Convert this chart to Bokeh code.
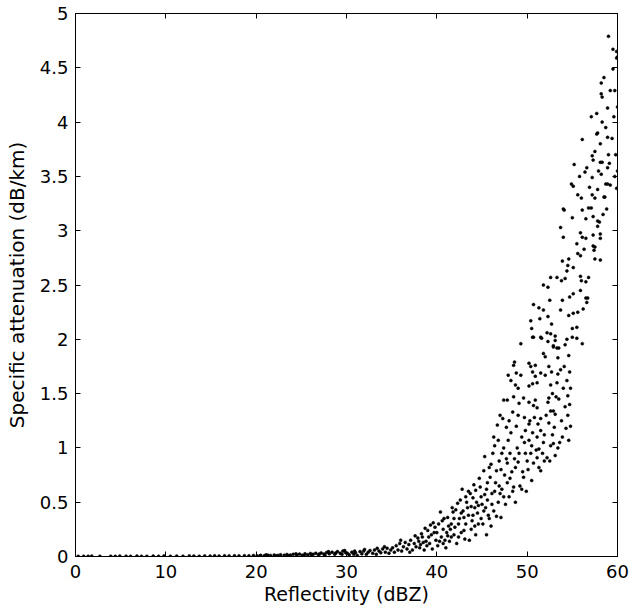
from bokeh.plotting import figure
from bokeh.models import Range1d, LinearAxis, FixedTicker, CustomJSTickFormatter
from bokeh.embed import file_html
from bokeh.resources import INLINE

# ---- data: (reflectivity dBZ, specific attenuation dB/km) ----
seg_base = [(0.3,0.002),(0.9,0.003),(1.4,0.002),(1.8,0.004),(2.7,0.002),(3.9,0.003),(4.4,0.002),
            (4.9,0.004),(5.6,0.003),(6.1,0.002),(6.8,0.004),(7.3,0.003),(7.9,0.002),(8.6,0.004),
            (9.2,0.003),(9.8,0.005),(10.5,0.003),(11.2,0.004),(11.9,0.003),(12.6,0.005),(13.1,0.004),
            (13.7,0.003),(14.3,0.005),(14.9,0.004),(15.4,0.006),(15.9,0.004),(16.5,0.006),(17.0,0.005),
            (17.6,0.007),(18.1,0.005),(18.7,0.008),(19.2,0.006),(19.7,0.009)]
seg20 = [(20.1,0.007),(20.5,0.011),(20.9,0.008),(21.3,0.012),(21.6,0.009),(22.0,0.014),(22.4,0.010),
         (22.7,0.016),(23.1,0.011),(23.4,0.018),(23.8,0.013),(24.1,0.02),(24.5,0.015),(24.8,0.022),
         (25.1,0.012),(25.4,0.025),(25.7,0.017),(26.0,0.028),(26.3,0.02),(26.6,0.03),(26.9,0.015),
         (27.2,0.033),(27.5,0.022),(27.8,0.036),(28.1,0.025),(28.4,0.04),(28.7,0.02),(29.0,0.045),
         (29.3,0.03),(29.6,0.05),(29.9,0.035),(20.4,0.004),(21.1,0.015),(22.2,0.006),(23.6,0.008),
         (24.4,0.025),(25.3,0.008),(26.1,0.012),(27.0,0.024),(27.6,0.012),(28.0,0.045),(28.8,0.032),
         (29.5,0.02),(29.8,0.055)]
seg30 = [(30.1,0.03),(30.3,0.015),(30.6,0.04),(30.8,0.02),(31.0,0.035),(31.2,0.01),(31.5,0.045),
         (31.7,0.025),(31.9,0.05),(32.2,0.02),(32.4,0.04),(32.6,0.055),(32.9,0.03),(33.1,0.06),
         (33.3,0.02),(33.6,0.05),(33.8,0.035),(34.0,0.07),(34.3,0.04),(34.5,0.075),(34.7,0.03),
         (34.9,0.06),(30.9,0.05),(32.0,0.065),(33.4,0.075),(34.2,0.09)]
seg35 = [(35.1,0.08),(35.3,0.04),(35.5,0.1),(35.7,0.06),(35.9,0.12),(36.1,0.05),(36.3,0.09),
         (36.5,0.13),(36.7,0.07),(36.9,0.11),(37.1,0.15),(37.3,0.06),(37.5,0.12),(37.7,0.09),
         (37.9,0.17),(38.1,0.08),(38.3,0.21),(38.5,0.13),(38.7,0.26),(38.9,0.1),(39.1,0.18),
         (39.3,0.29),(39.5,0.07),(39.7,0.22),(39.9,0.15),(36.0,0.15),(37.0,0.04),(38.0,0.14),
         (39.0,0.24),(38.6,0.06),(39.6,0.31),(37.6,0.19)]
seg40 = [(40.1,0.1),(40.2,0.3),(40.4,0.41),(40.5,0.18),(40.7,0.25),(40.8,0.35),(41.0,0.08),
         (41.1,0.22),(41.2,0.36),(41.4,0.14),(41.6,0.3),(41.7,0.45),(41.8,0.41),(41.9,0.2),
         (42.0,0.27),(42.2,0.12),(42.3,0.49),(42.5,0.35),(42.6,0.52),(42.7,0.22),(42.9,0.42),
         (43.1,0.16),(43.2,0.3),(43.4,0.45),(43.5,0.6),(43.7,0.58),(43.8,0.25),(44.0,0.38),
         (44.1,0.66),(44.3,0.2),(44.4,0.5),(44.5,0.4),(44.6,0.3),(44.7,0.72),(44.8,0.64),
         (44.9,0.55),(40.9,0.15),(41.5,0.25),(42.4,0.18),(43.0,0.36),(43.6,0.15),(44.2,0.28),
         (42.8,0.62),(43.3,0.5)]
seg_dense = [(38.2,0.11),(38.4,0.18),(38.8,0.14),(39.2,0.12),(39.4,0.2),(39.8,0.27),(40.0,0.22),
             (40.3,0.14),(40.6,0.33),(41.3,0.28),(41.6,0.18),(41.9,0.35),(42.1,0.43),(42.4,0.3),
             (42.7,0.4),(43.0,0.24),(43.2,0.55),(43.5,0.38),(43.8,0.46),(44.0,0.54),(44.3,0.61),
             (44.6,0.47),(44.9,0.35),(45.3,0.57),(45.6,0.68),(45.8,0.35),(46.1,0.48),(46.4,0.6),
             (46.6,0.37),(46.9,0.65),(47.1,0.8),(47.4,0.55),(47.7,0.9),(48.1,0.72),(48.4,0.6),
             (48.7,0.82),(49.1,0.95),(49.4,0.62),(49.7,1.05),(50.1,0.8),(50.5,1.02),(51.3,0.99),
             (51.9,0.88),(52.8,1.12),(53.4,1.0),(45.2,0.42),(44.2,0.45),(43.9,0.33),(41.2,0.19),
             (40.7,0.12)]
seg45 = [(45.1,0.3),(45.2,0.79),(45.3,0.92),(45.4,0.45),(45.5,0.62),(45.6,0.52),(45.7,0.38),
         (45.8,0.82),(45.9,0.73),(46.0,0.28),(46.1,0.58),(46.2,0.95),(46.3,0.42),(46.3,1.1),
         (46.4,1.02),(46.5,0.68),(46.6,0.79),(46.7,1.21),(46.8,1.07),(46.8,0.5),(46.9,0.88),
         (47.0,0.58),(47.0,1.3),(47.1,0.36),(47.2,0.95),(47.3,1.27),(47.4,1.0),(47.4,1.44),
         (47.5,0.75),(47.6,0.48),(47.7,1.19),(47.8,0.68),(47.8,0.86),(47.8,1.44),(47.9,1.67),
         (47.9,1.07),(48.0,0.55),(48.1,0.95),(48.2,1.62),(48.2,1.14),(48.3,0.78),(48.4,1.33),
         (48.5,0.64),(48.5,1.47),(48.5,1.76),(48.6,1.79),(48.6,0.9),(48.7,0.5),(48.7,1.58),
         (48.8,1.69),(48.8,1.2),(48.9,1.0),(49.0,0.87),(49.0,1.3),(49.1,1.41),(49.2,0.65),
         (49.3,1.67),(49.3,1.96),(49.4,1.1),(49.5,0.78),(49.6,1.46),(49.6,0.73),(49.7,1.28),
         (49.8,1.16),(49.8,0.95),(49.9,0.6),(45.0,0.48),(45.5,0.2),(46.0,0.85),(47.2,0.62),
         (48.0,1.25),(49.0,1.55)]
seg50 = [(50.0,0.88),(50.2,1.78),(50.2,1.57),(50.2,1.42),(50.2,1.22),(50.2,1.07),(50.3,1.25),
         (50.4,1.75),(50.5,0.7),(50.6,1.7),(50.6,1.59),(50.6,1.14),(50.7,2.02),(50.7,1.39),
         (50.7,0.86),(50.8,1.28),(50.9,1.76),(50.9,1.66),(50.9,1.44),(51.0,0.98),(51.1,1.6),
         (51.1,1.37),(51.1,1.1),(51.1,0.91),(51.2,1.22),(51.3,0.82),(51.5,2.02),(51.5,1.69),
         (51.5,1.27),(51.5,1.16),(51.5,0.79),(51.7,0.95),(51.8,1.87),(51.8,1.05),(52.0,1.84),
         (52.0,1.67),(52.1,1.3),(52.2,0.91),(52.3,1.98),(52.3,1.42),(52.4,1.75),(52.4,1.46),
         (52.4,1.23),(52.5,0.88),(52.6,2.05),(52.6,1.58),(52.6,1.34),(52.6,1.02),(52.8,1.5),
         (52.9,1.94),(52.9,1.34),(52.9,1.04),(53.0,1.19),(53.1,2.03),(53.1,1.31),(53.1,0.93),
         (53.3,1.6),(53.4,1.83),(53.4,1.68),(53.5,1.92),(53.5,1.45),(53.6,1.05),(53.8,1.25),
         (53.9,1.1),(54.0,1.55),(54.1,1.75),(54.2,1.38),(54.3,1.18),(54.4,1.62),(54.4,2.0),
         (54.5,1.3),(54.5,1.48),(54.6,1.07),(54.6,1.85),(54.7,1.4),(54.7,1.7),(54.8,1.55),
         (54.8,1.2),(54.2,1.95),(53.7,1.72),(50.4,0.95),(51.9,1.12),(53.2,1.47),(52.7,1.7)]
seg50_hi = [(50.4,2.17),(50.5,2.1),(50.6,2.02),(50.7,2.32),(51.3,2.29),(51.4,2.19),(51.6,2.01),
            (51.8,2.5),(51.8,2.27),(52.3,2.48),(52.3,2.21),(52.2,2.06),(52.5,2.36),(52.6,2.57),
            (52.7,2.14),(52.9,1.93),(53.1,1.99),(53.3,2.57),(53.3,1.92),(53.7,3.03),(53.7,2.27),
            (53.8,2.54),(53.9,2.72),(53.9,2.36),(54.0,2.94),(54.0,3.2),(54.1,3.19),(54.2,2.56),
            (54.4,2.63),(54.5,2.68),(54.6,2.74),(54.6,2.22),(54.7,2.39),(54.9,3.43),(55.0,3.12),
            (55.0,2.1),(55.0,2.02)]
seg55 = [(55.1,3.41),(55.1,2.66),(55.1,2.42),(55.1,2.24),(55.2,3.61),(55.5,2.88),(55.5,2.11),
         (55.5,2.01),(55.6,3.33),(55.6,2.79),(55.6,2.25),(55.8,3.5),(55.9,2.98),(55.9,2.77),
         (55.9,2.58),(55.9,2.45),(56.0,3.3),(56.0,2.54),(56.1,3.84),(56.1,3.19),(56.1,2.94),
         (56.1,1.96),(56.2,2.28),(56.3,2.83),(56.4,3.54),(56.5,3.11),(56.5,2.93),(56.5,2.53),
         (56.5,2.38),(56.6,3.58),(56.6,2.34),(56.7,2.38),(56.8,3.21),(56.8,2.57),(57.1,4.05),
         (57.1,3.21),(57.2,3.69),(57.2,3.49),(57.2,3.33),(57.3,3.65),(57.3,3.13),(57.3,2.96),
         (57.3,2.86),(57.4,2.82),(57.5,3.73),(57.5,3.3),(57.5,2.85),(57.5,2.74),(57.7,4.08),
         (57.7,3.89),(57.8,3.9),(57.8,3.38),(57.8,3.09),(57.8,3.04),(58.0,3.08),(58.1,3.8),
         (58.1,3.63),(58.1,2.97),(58.1,2.93),(58.1,2.73),(58.2,4.36),(58.2,4.26),(58.2,3.52),
         (58.3,4.23),(58.3,4.0),(58.3,3.63),(58.5,4.41),(58.5,3.31),(58.6,3.31),(58.7,3.95),
         (58.7,3.43),(58.9,4.13),(58.9,3.86),(58.9,3.58),(58.9,3.43),(59.0,4.79),(59.0,3.7),
         (59.1,3.62),(59.2,4.29),(59.2,3.42),(59.5,4.67),(59.5,4.49),(59.7,4.29),(59.7,3.5),
         (59.9,4.65),(59.9,4.59),(59.9,3.39),(60.0,4.6),(60.0,4.14),(58.4,3.15),(59.4,3.85),
         (59.6,4.05),(56.9,3.4),(57.9,3.55),(59.8,3.7),(58.8,3.2),(60.0,3.55)]

x_ticks = [0, 10, 20, 30, 40, 50, 60]
y_ticks = [0, 0.5, 1, 1.5, 2, 2.5, 3, 3.5, 4, 4.5, 5]
x_title = "Reflectivity (dBZ)"
y_title = "Specific attenuation (dB/km)"

points = seg_base + seg20 + seg30 + seg35 + seg40 + seg_dense + seg45 + seg50 + seg50_hi + seg55
xs = [pt[0] for pt in points]
ys = [pt[1] for pt in points]

FONT = "DejaVu Sans"

p = figure(width=632, height=616, output_backend="svg", toolbar_location=None,
           x_range=Range1d(0, 60), y_range=Range1d(0, 5),
           min_border_left=75, min_border_right=15, min_border_top=13, min_border_bottom=60)
p.background_fill_color = "white"
p.border_fill_color = "white"
p.xgrid.visible = False
p.ygrid.visible = False
p.outline_line_color = "black"
p.outline_line_width = 1

p.scatter(x=xs, y=ys, size=3, marker="circle", fill_color="black", line_color="black", line_width=0.5)

fmt = CustomJSTickFormatter(code="return tick.toString();")
blank = CustomJSTickFormatter(code="return '';")

def style(ax, ticks, labels=True):
    ax.ticker = FixedTicker(ticks=ticks)
    ax.formatter = fmt if labels else blank
    ax.major_tick_in = 5
    ax.major_tick_out = 0
    ax.minor_tick_in = 0
    ax.minor_tick_out = 0
    ax.axis_line_color = "black"
    ax.major_tick_line_color = "black"
    ax.major_label_text_font = FONT
    ax.major_label_text_color = "black"
    ax.axis_label_text_font = FONT
    ax.axis_label_text_font_style = "normal"
    ax.axis_label_text_color = "black"
    ax.major_label_text_font_size = "18px"
    if not labels:
        ax.major_label_standoff = 0

style(p.xaxis[0], x_ticks)
style(p.yaxis[0], y_ticks)
p.xaxis[0].axis_label = x_title
p.yaxis[0].axis_label = y_title
p.xaxis[0].axis_label_text_font_size = "19px"
p.yaxis[0].axis_label_text_font_size = "20px"
p.xaxis[0].major_label_standoff = 8
p.yaxis[0].major_label_standoff = 7
p.xaxis[0].axis_label_standoff = 2
p.yaxis[0].axis_label_standoff = 8

top_ax = LinearAxis()
right_ax = LinearAxis()
style(top_ax, x_ticks, labels=False)
style(right_ax, y_ticks, labels=False)
p.add_layout(top_ax, "above")
p.add_layout(right_ax, "right")

open("out.html", "w").write(file_html(p, INLINE))
